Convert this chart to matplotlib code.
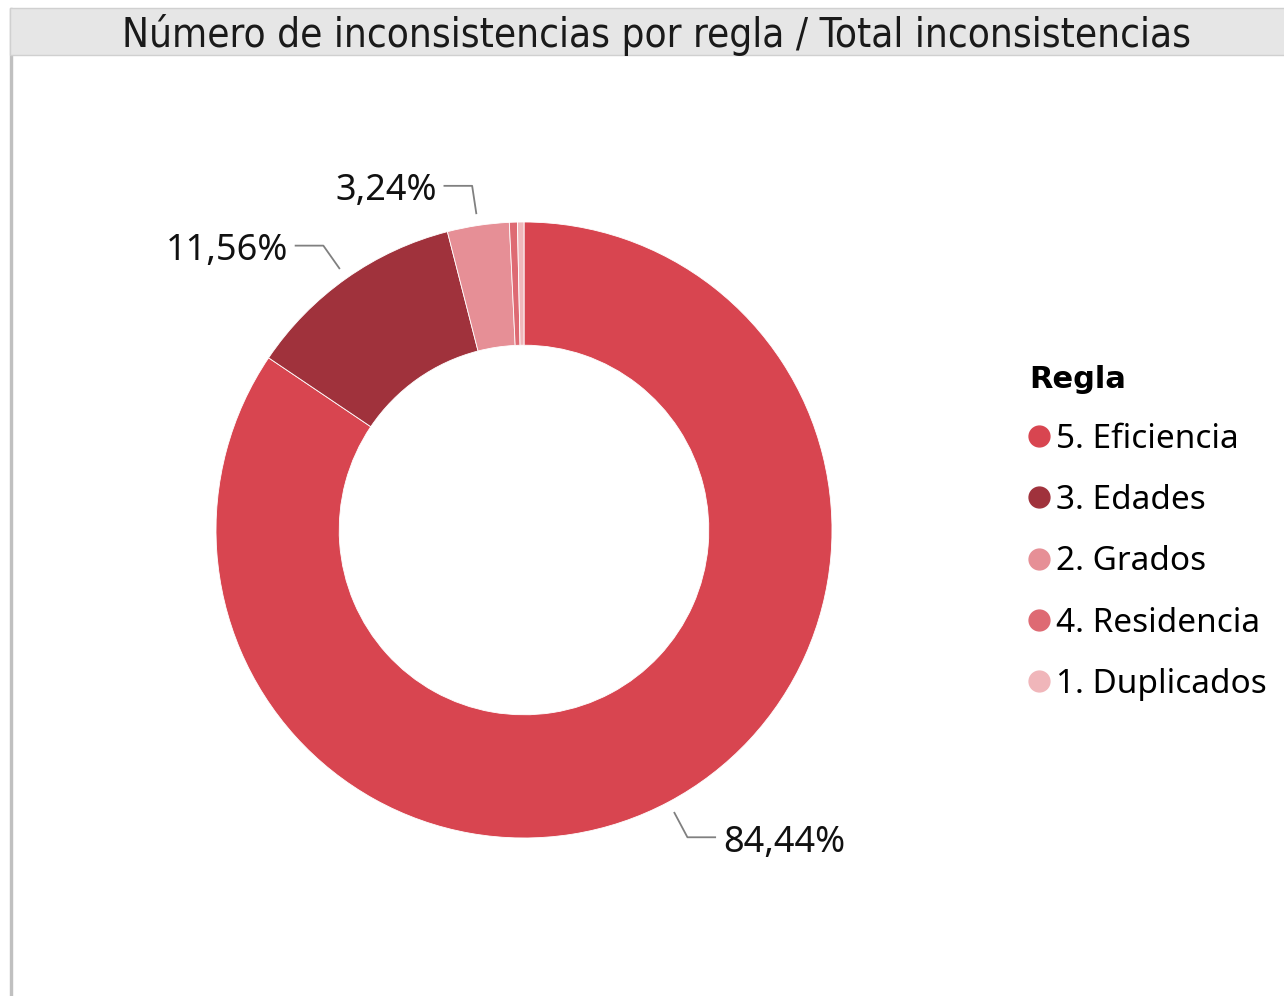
"""Donut chart: inconsistencias por regla."""
import numpy as np
import matplotlib
matplotlib.use("Agg")
import matplotlib.pyplot as plt
from matplotlib.lines import Line2D
from matplotlib.patches import Rectangle

# data
rules = ["5. Eficiencia", "3. Edades", "2. Grados", "4. Residencia", "1. Duplicados"]
shares = [84.44, 11.56, 3.24, 0.42, 0.34]
labels = ["84,44%", "11,56%", "3,24%", "", ""]
colors = ["#D84550", "#A0323C", "#E68F96", "#DE6A73", "#F0B6BA"]

plt.rcParams["font.family"] = ["Noto Sans", "DejaVu Sans"]

W, H = 1284, 996
fig = plt.figure(figsize=(W / 100, H / 100), dpi=100)

# frame: title bar and left border
fig.patches.append(Rectangle((10 / W, 0), 1.5 / W, 1 - 8 / H, transform=fig.transFigure,
                             color="#C0C0C0", zorder=0))
fig.patches.append(Rectangle((10 / W, 1 - 55 / H), 1, 47 / H, transform=fig.transFigure,
                             facecolor="#E6E6E6", edgecolor="#D0D0D0", lw=1, zorder=0))
fig.text(657 / W, 1 - 35 / H, "Número de inconsistencias por regla / Total inconsistencias",
         ha="center", va="center", fontsize=29, fontstretch="condensed",
         family=["DejaVu Sans"], color="#1a1a1a")

# donut axes: center (524, 530), radius 308 px
cx, cy, r = 524, 530, 308
ax = fig.add_axes([(cx - r) / W, (H - cy - r) / H, 2 * r / W, 2 * r / H])
wedges, _ = ax.pie(shares, colors=colors, startangle=90, counterclock=False,
                   radius=1, wedgeprops=dict(width=0.40, edgecolor="white", linewidth=0.6))
ax.set_xlim(-1, 1)
ax.set_ylim(-1, 1)
ax.set_aspect("equal")
ax.axis("off")

# leader lines and labels
for w, lab in zip(wedges, labels):
    if not lab:
        continue
    ang = np.deg2rad((w.theta1 + w.theta2) / 2)
    x0, y0 = 1.04 * np.cos(ang), 1.04 * np.sin(ang)
    x1, y1 = 1.13 * np.cos(ang), 1.13 * np.sin(ang)
    sgn = 1 if np.cos(ang) > 0 else -1
    x2 = x1 + sgn * 0.09
    ax.plot([x0, x1, x2], [y0, y1, y1], color="#808080", lw=1.3, clip_on=False)
    ax.text(x2 + sgn * 0.025, y1 - 0.018, lab, ha="left" if sgn > 0 else "right", va="center",
            fontsize=26, color="#111111", clip_on=False)

# legend
handles = [Line2D([], [], marker="o", linestyle="", markersize=15, markerfacecolor=c,
                  markeredgecolor=c) for c in colors]
leg = fig.legend(handles, rules, loc="upper left", bbox_to_anchor=(1016 / W, 1 - 352 / H),
                 title="Regla", frameon=False, fontsize=24,
                 title_fontproperties={"family": "DejaVu Sans", "weight": "bold", "size": 22},
                 handlelength=0.6, handletextpad=0.2, labelspacing=0.85, alignment="left",
                 borderaxespad=0)

fig.savefig("out.png", dpi=100)
